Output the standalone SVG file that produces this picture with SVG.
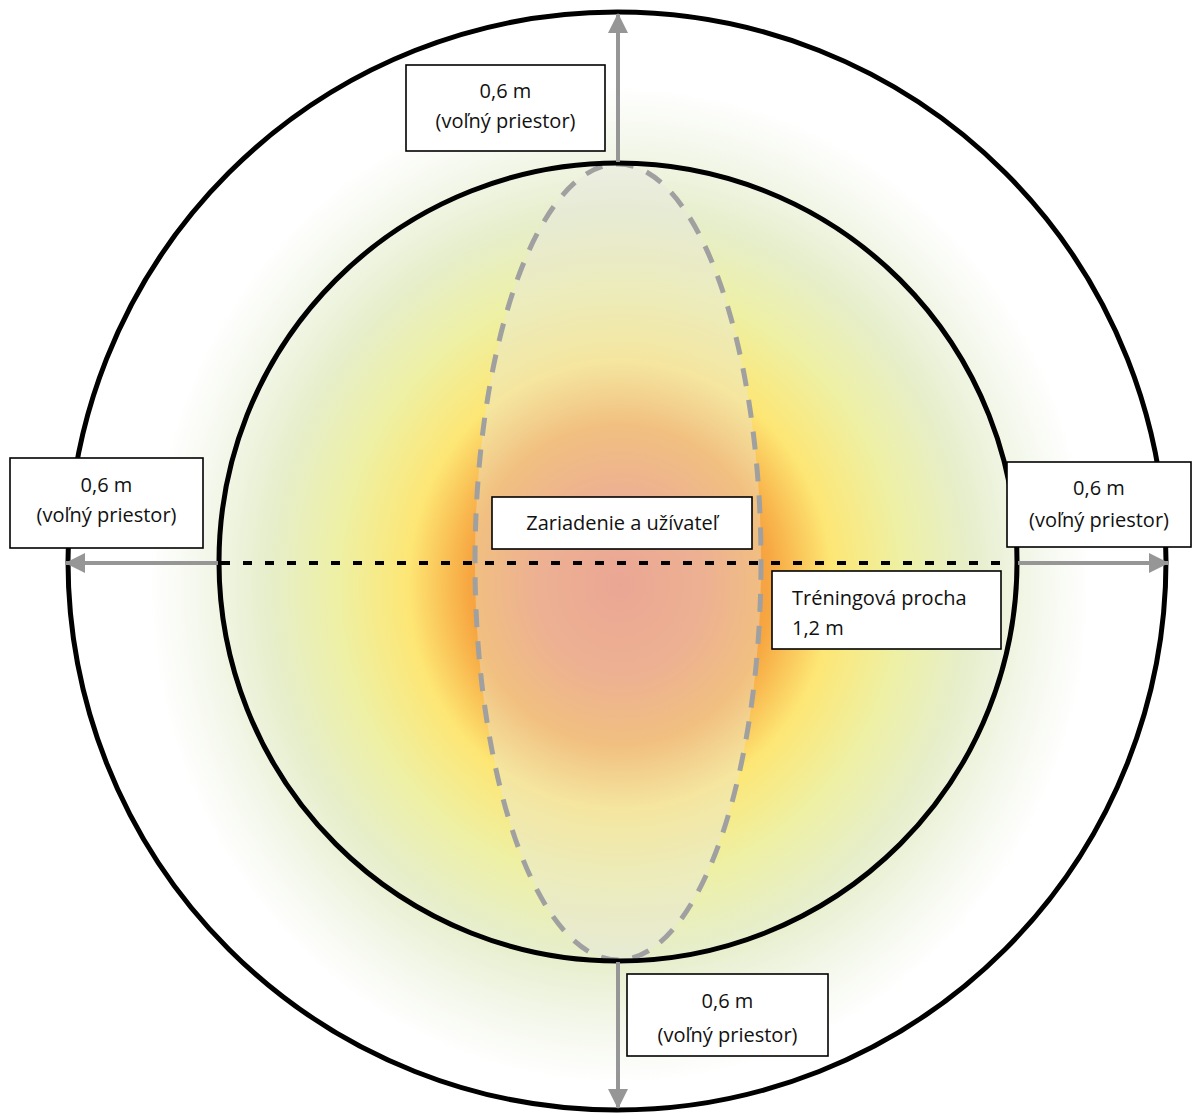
<svg xmlns="http://www.w3.org/2000/svg" width="1193" height="1113" viewBox="0 0 1193 1113">
<style>
.ring{fill:none;stroke:#000;stroke-width:5}
.box{fill:#fff;stroke:#000;stroke-width:1.6}
.lbl{font-family:"Open Sans","Liberation Sans",sans-serif;font-size:20px;fill:#111}
.mid{text-anchor:middle}
.arr{stroke:#969696;stroke-width:4;fill:none;marker-end:url(#ah)}
</style>
<defs>
<radialGradient id="glow" gradientUnits="userSpaceOnUse" cx="620" cy="585" r="470" gradientTransform="translate(620 585) scale(1 1.06) translate(-620 -585)">
<stop offset="0" stop-color="#ec7c62"/>
<stop offset="0.18" stop-color="#f08e5e"/>
<stop offset="0.32" stop-color="#f7a640"/>
<stop offset="0.45" stop-color="#fde674"/>
<stop offset="0.6" stop-color="#eef0a4"/>
<stop offset="0.75" stop-color="#e6eecb"/>
<stop offset="0.88" stop-color="#f3f7ea"/>
<stop offset="1" stop-color="#ffffff"/>
</radialGradient>
<marker id="ah" viewBox="0 0 20 20" refX="19" refY="10" markerWidth="20" markerHeight="20" markerUnits="userSpaceOnUse" orient="auto">
<path d="M0,0 L20,10 L0,20 Z" fill="#969696"/>
</marker>
</defs>
<rect width="1193" height="1113" fill="#fff"/>
<g id="background">
<ellipse cx="620" cy="585" rx="470" ry="500" fill="url(#glow)"/>
<path d="M0,0 H1193 V1113 H0 Z M617,12 A549,549 0 1,0 617.01,12 Z" fill="#fff" fill-rule="evenodd"/>
</g>
<g id="training-area">
<ellipse cx="618" cy="562" rx="143" ry="398" fill="#e8e5e0" fill-opacity="0.4" stroke="#a0a0a0" stroke-width="5" stroke-dasharray="18 14"/>
</g>
<g id="outer-circle"><circle class="ring" cx="617" cy="561" r="549"/></g>
<g id="inner-circle"><circle class="ring" cx="618" cy="562" r="399"/></g>
<g id="connectors">
<line x1="221" y1="563" x2="1007" y2="563" stroke="#000" stroke-width="4" stroke-dasharray="9 13"/>
<line class="arr" x1="618" y1="162" x2="618" y2="14"/>
<line class="arr" x1="618" y1="962" x2="618" y2="1108"/>
<line class="arr" x1="218" y1="563" x2="66" y2="563"/>
<line class="arr" x1="1018" y1="563" x2="1168" y2="563"/>
</g>
<g id="label-top">
<rect class="box" x="406" y="65" width="199" height="86"/>
<text class="lbl mid" x="505.5" y="98">0,6 m</text>
<text class="lbl mid" x="505.5" y="128">(voľný priestor)</text>
</g>
<g id="label-left">
<rect class="box" x="10" y="458" width="193" height="90"/>
<text class="lbl mid" x="106.5" y="492">0,6 m</text>
<text class="lbl mid" x="106.5" y="522">(voľný priestor)</text>
</g>
<g id="label-center">
<rect class="box" x="492" y="497" width="260" height="52"/>
<text class="lbl mid" x="622" y="530">Zariadenie a užívateľ</text>
</g>
<g id="label-right">
<rect class="box" x="1007" y="462" width="184" height="85"/>
<text class="lbl mid" x="1099" y="495">0,6 m</text>
<text class="lbl mid" x="1099" y="527">(voľný priestor)</text>
</g>
<g id="label-training">
<rect class="box" x="772" y="571" width="229" height="78"/>
<text class="lbl" x="792" y="605">Tréningová procha</text>
<text class="lbl" x="792" y="635">1,2 m</text>
</g>
<g id="label-bottom">
<rect class="box" x="627" y="974" width="201" height="82"/>
<text class="lbl mid" x="727.5" y="1008">0,6 m</text>
<text class="lbl mid" x="727.5" y="1042">(voľný priestor)</text>
</g>
</svg>
